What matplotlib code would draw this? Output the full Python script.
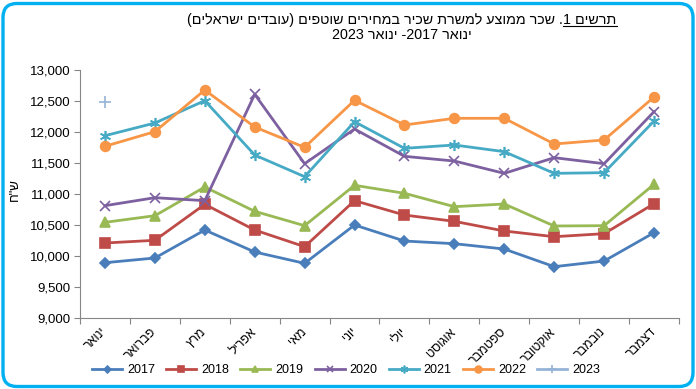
import re
import matplotlib
matplotlib.use("Agg")
import matplotlib.pyplot as plt
from matplotlib.patches import FancyBboxPatch
from matplotlib.transforms import IdentityTransform
from matplotlib.ticker import FuncFormatter, FixedLocator

plt.rcParams['font.family'] = ['Liberation Sans', 'DejaVu Sans']


def vis(s):
    # hebrew is drawn left to right by matplotlib, so flip it by hand
    r = s[::-1]
    r = re.sub(r'[0-9][0-9,.]*[0-9]|[0-9]', lambda m: m.group(0)[::-1], r)
    return r.translate(str.maketrans('()', ')('))


months = ["ינואר", "פברואר", "מרץ", "אפריל", "מאי", "יוני",
          "יולי", "אוגוסט", "ספטמבר", "אוקטובר", "נובמבר", "דצמבר"]

y2017 = [9888, 9964, 10416, 10061, 9878, 10497, 10238, 10195, 10109, 9824, 9915, 10373]
y2018 = [10206, 10250, 10831, 10416, 10147, 10890, 10658, 10556, 10400, 10308, 10357, 10841]
y2019 = [10540, 10647, 11110, 10718, 10486, 11138, 11009, 10793, 10836, 10481, 10486, 11154]
y2020 = [10809, 10938, 10890, 12607, 11487, 12047, 11606, 11530, 11331, 11584, 11487, 12327]
y2021 = [11939, 12144, 12505, 11627, 11277, 12165, 11735, 11789, 11681, 11331, 11342, 12176]
y2022 = [11768, 12004, 12677, 12079, 11751, 12511, 12112, 12220, 12220, 11805, 11870, 12564]
y2023 = [12483]

series = [
    ("2017", y2017, "#4A7EBB", "D", 5),
    ("2018", y2018, "#BE4B48", "s", 6.5),
    ("2019", y2019, "#98B954", "^", 7),
    ("2020", y2020, "#7D60A0", "x", 7),
    ("2021", y2021, "#46AAC5", (6, 2, 0), 8),
    ("2022", y2022, "#F79646", "o", 7),
    ("2023", y2023, "#95B3D7", "+", 8),
]

W, H = 696, 389
fig = plt.figure(figsize=(W / 100, H / 100), dpi=100)
fig.patch.set_facecolor("white")
ax = fig.add_axes([80 / W, 1 - 317.7 / H, 599 / W, 247.7 / H])

x = list(range(12))
handles = []
for name, vals, col, mk, ms in series:
    ln, = ax.plot(x[:len(vals)], vals, color=col, lw=2.0, marker=mk, ms=ms,
                  mec=col, mfc=col, mew=1.2, label=name)
    handles.append(ln)

ax.set_xlim(-0.5, 11.5)
ax.set_ylim(9000, 13000)
ax.set_yticks(range(9000, 13001, 500))
ax.yaxis.set_major_formatter(FuncFormatter(lambda v, p: "{:,.0f}".format(v)))
ax.tick_params(axis="y", labelsize=9.5, length=4, color="#868686", pad=3)

ax.xaxis.set_major_locator(FixedLocator([i - 0.5 for i in range(13)]))
ax.xaxis.set_minor_locator(FixedLocator(x))
ax.tick_params(axis="x", which="major", length=4, color="#868686", labelbottom=False)
ax.tick_params(axis="x", which="minor", length=0, pad=9, labelsize=9)
ax.set_xticks(x, [vis(m) for m in months], minor=True)
for lab in ax.get_xticklabels(minor=True):
    lab.set_rotation(45)
    lab.set_rotation_mode("anchor")
    lab.set_ha("right")
    lab.set_va("center")

for s in ["top", "right"]:
    ax.spines[s].set_visible(False)
for s in ["left", "bottom"]:
    ax.spines[s].set_color("#868686")

fig.text(15 / W, 1 - 190 / H, vis('ש"ח'), rotation=90, ha="center", va="center", fontsize=9.5)

fig.legend(handles=handles, loc="center", bbox_to_anchor=(346 / W, 1 - 370 / H),
           ncol=7, frameon=False, fontsize=9, handlelength=2.4,
           handletextpad=0.4, columnspacing=0.9, markerscale=0.7)

# title, first line has an underlined part on the right
cx = 402 / W
y1 = 1 - 20 / H
left_str = vis("שכר ממוצע למשרת שכיר במחירים שוטפים (עובדים ישראלים)") + " ."
right_str = vis("תרשים 1")
tl = fig.text(cx, y1, left_str, ha="right", va="center", fontsize=10.3)
tr = fig.text(cx, y1, right_str, ha="left", va="center", fontsize=10.3)
fig.canvas.draw()
r = fig.canvas.get_renderer()
wl = tl.get_window_extent(r).width
wr = tr.get_window_extent(r).width
xm = cx * W - (wl + wr) / 2 + wl
tl.set_x(xm / W)
tr.set_x(xm / W)
fig.canvas.draw()
bb = tr.get_window_extent(r)
fig.add_artist(plt.Line2D([bb.x0 / W, bb.x1 / W], [(bb.y0 + 1) / H] * 2, color="black", lw=0.8))
fig.text(cx, 1 - 35 / H, vis("ינואר 2017- ינואר 2023"), ha="center", va="center", fontsize=10.3)

border = FancyBboxPatch((3, 2.5), 690, 383, boxstyle="round,pad=0,rounding_size=14",
                        transform=IdentityTransform(), fc="none", ec="#00B0F0", lw=2.4)
fig.add_artist(border)

fig.savefig("out.png", dpi=100)
